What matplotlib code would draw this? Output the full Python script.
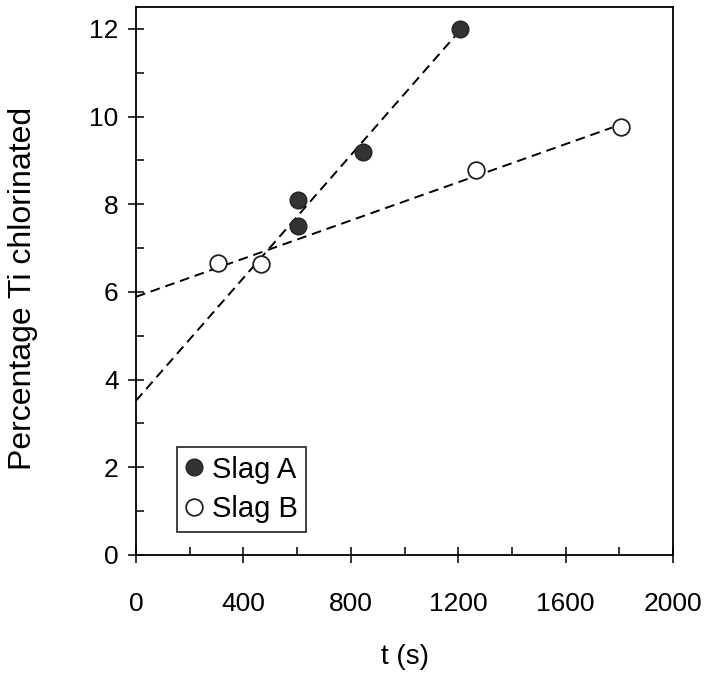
import matplotlib
matplotlib.use("Agg")
import matplotlib.pyplot as plt
import numpy as np
from matplotlib.ticker import MultipleLocator

plt.rcParams['font.family'] = ['Liberation Sans', 'DejaVu Sans']

# Data
slagA_t = [605, 605, 845, 1205]
slagA_pct = [8.09, 7.50, 9.20, 12.0]
slagB_t = [304, 466, 1266, 1806]
slagB_pct = [6.66, 6.64, 8.79, 9.77]

# Fitted lines (intercept, slope, end time)
fitA_intercept, fitA_slope, fitA_end = 3.52, 0.00700, 1188
fitB_intercept, fitB_slope, fitB_end = 5.89, 0.002177, 1773

xticks = [0, 400, 800, 1200, 1600, 2000]
yticks = [0, 2, 4, 6, 8, 10, 12]

fig = plt.figure(figsize=(7.06, 6.76), dpi=100)
ax = fig.add_axes([0.1926, 0.179, 0.7607, 0.8106])

tA = np.array([0, fitA_end])
tB = np.array([0, fitB_end])
ax.plot(tA, fitA_intercept + fitA_slope * tA, color='black', ls=(0, (5, 3)), lw=1.4)
ax.plot(tB, fitB_intercept + fitB_slope * tB, color='black', ls=(0, (5, 3)), lw=1.4)

ax.plot(slagA_t, slagA_pct, 'o', ms=12, mfc='#333333', mec='#222222', mew=1.0,
        label='Slag A', clip_on=False)
ax.plot(slagB_t, slagB_pct, 'o', ms=12, mfc='white', mec='#222222', mew=1.3,
        label='Slag B', clip_on=False)

ax.set_xlim(0, 2000)
ax.set_ylim(0, 12.5)
ax.set_xticks(xticks)
ax.set_yticks(yticks)
ax.xaxis.set_minor_locator(MultipleLocator(200))
ax.yaxis.set_minor_locator(MultipleLocator(1))
ax.tick_params(which='major', direction='inout', length=11, width=1.1,
               labelsize=19, top=False, right=False, color='black')
ax.tick_params(which='minor', direction='in', length=6, width=1.1,
               top=False, right=False)
ax.tick_params(axis='x', which='major', pad=21)
ax.tick_params(axis='y', which='major', pad=7)
for s in ax.spines.values():
    s.set_linewidth(1.3)

ax.set_xlabel('t (s)', fontsize=20, labelpad=20)
ax.set_ylabel('Percentage Ti chlorinated', fontsize=23)
ax.yaxis.set_label_coords(-0.183, 0.487)

leg = ax.legend(loc='lower left', bbox_to_anchor=(0.076, 0.042), borderaxespad=0,
                fontsize=21, frameon=True, fancybox=False, handlelength=0.6,
                handletextpad=0.3, borderpad=0.3, labelspacing=0.4, markerscale=1.0)
leg.get_frame().set_edgecolor('black')
leg.get_frame().set_linewidth(1.3)

fig.savefig('out.png', dpi=100)
